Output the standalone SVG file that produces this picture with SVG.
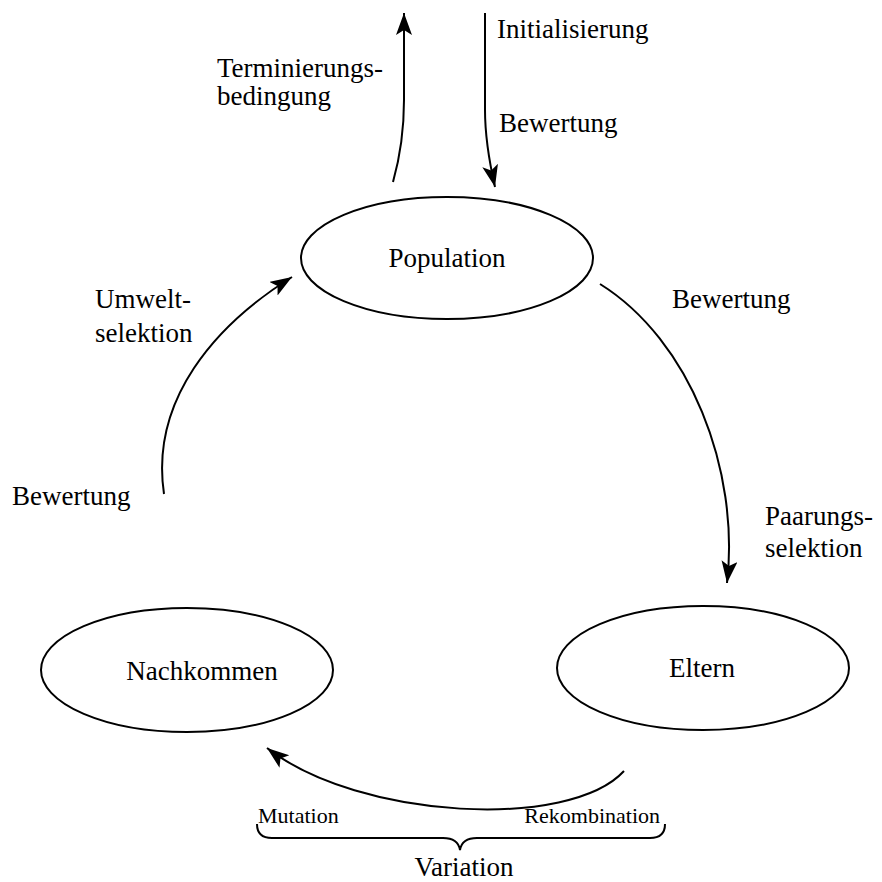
<svg xmlns="http://www.w3.org/2000/svg" width="882" height="882" viewBox="0 0 882 882">
<defs>
<marker id="ah" markerUnits="userSpaceOnUse" markerWidth="24" markerHeight="18" refX="22" refY="8" orient="auto">
<path d="M0,0 L22,8 L0,16 L5,8 Z" fill="#000"/>
</marker>
</defs>
<style>
.n{fill:#fff;stroke:#000;stroke-width:2}
.c{fill:none;stroke:#000;stroke-width:2}
text{font-family:"Liberation Serif","Times New Roman",serif;font-size:27px;fill:#000}
.m{text-anchor:middle}
.s{font-size:22px}
</style>
<rect width="882" height="882" fill="#fff"/>
<g id="population"><ellipse class="n" cx="447" cy="258" rx="146" ry="61"/><text class="m" x="447" y="267">Population</text></g>
<g id="nachkommen"><ellipse class="n" cx="187" cy="670" rx="146" ry="62"/><text class="m" x="202" y="680">Nachkommen</text></g>
<g id="eltern"><ellipse class="n" cx="703" cy="668" rx="146" ry="62"/><text class="m" x="702" y="677">Eltern</text></g>
<g id="connectors">
<path class="c" d="M600,284 C690,340 740,470 727,583" marker-end="url(#ah)"/>
<path class="c" d="M624,771 C570,830 360,820 267,748" marker-end="url(#ah)"/>
<path class="c" d="M164,494 C150,400 215,325 292,277" marker-end="url(#ah)"/>
<path class="c" d="M393,182 C402,150 404,125 404,100 L404,13" marker-end="url(#ah)"/>
<path class="c" d="M485,13 L485,110 C485,140 490,165 495,187" marker-end="url(#ah)"/>
<path class="c" d="M257,824 Q257,838 272,838 L443,838 Q458,838 460,850 Q462,838 477,838 L650,838 Q665,838 665,824"/>
</g>
<g id="labels">
<text x="217" y="77">Terminierungs-</text>
<text x="217" y="105">bedingung</text>
<text x="497" y="38">Initialisierung</text>
<text x="499" y="132">Bewertung</text>
<text x="672" y="308">Bewertung</text>
<text x="95" y="308">Umwelt-</text>
<text x="95" y="342">selektion</text>
<text x="765" y="525">Paarungs-</text>
<text x="765" y="557">selektion</text>
<text x="12" y="505">Bewertung</text>
<text class="s" x="258" y="823">Mutation</text>
<text class="s" x="660" y="823" text-anchor="end">Rekombination</text>
<text class="m" x="464" y="876">Variation</text>
</g>
</svg>
